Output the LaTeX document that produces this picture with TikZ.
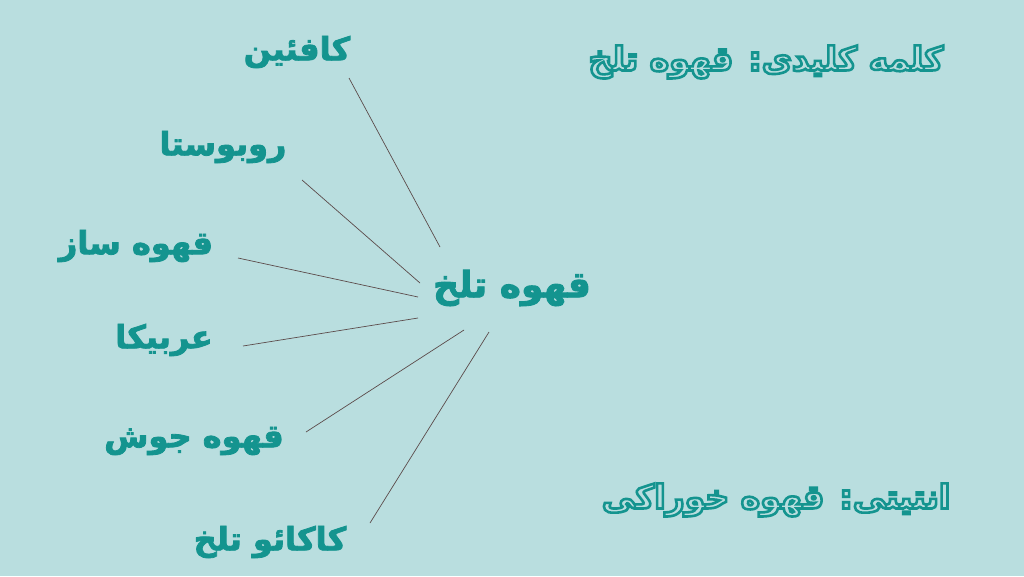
\documentclass[tikz,border=0pt]{standalone}
\usepackage{fontspec}
\TeXXeTstate=1
\newfontfamily\farsifont[Script=Arabic, BoldFeatures={FakeBold=2.5}]{DejaVu Sans}
\newfontfamily\farsiplain[Script=Arabic]{DejaVu Sans Bold}
\definecolor{bgcolor}{HTML}{B9DEDF}
\definecolor{tealtext}{HTML}{14948F}
\definecolor{linecolor}{HTML}{5C4B4B}
\newcommand{\fa}[1]{\beginR #1\endR}
\newcommand{\outlinetext}[1]{\special{pdf:literal direct 2 Tr 2.6 w 0.078 0.580 0.561 RG}#1\special{pdf:literal direct 0 Tr}}
\tikzset{
  word/.style={text=tealtext, inner sep=0pt, font=\farsifont\bfseries\fontsize{32}{38}\selectfont},
  mainword/.style={word, font=\farsifont\bfseries\fontsize{36}{42}\selectfont},
  outlined/.style={text=bgcolor, inner sep=0pt, font=\farsiplain\fontsize{33}{40}\selectfont},
  spoke/.style={draw=linecolor, line width=0.7pt}
}
\begin{document}
\begin{tikzpicture}[x=1pt,y=-1pt]

% Background
\fill[bgcolor] (0,0) rectangle (1024,576);

% Labels
\node[mainword] (C) at (512,288) {\fa{قهوه تلخ}};
\node[word] (A1) at (297,52) {\fa{کافئین}};
\node[word] (A2) at (223,147) {\fa{روبوستا}};
\node[word] (A3) at (136,246) {\fa{قهوه ساز}};
\node[word] (A4) at (164,340) {\fa{عربیکا}};
\node[word] (A5) at (194,441) {\fa{قهوه جوش}};
\node[word] (A6) at (270,542) {\fa{کاکائو تلخ}};
\node[outlined] (K) at (766,62) {\outlinetext{\fa{کلمه کلیدی: قهوه تلخ}}};
\node[outlined] (E) at (776,500) {\outlinetext{\fa{انتیتی: قهوه خوراکی}}};

% Define points
\coordinate (P1) at (349,78);
\coordinate (Q1) at (440,247);
\coordinate (P2) at (302,180);
\coordinate (Q2) at (420,283);
\coordinate (P3) at (238,258);
\coordinate (Q3) at (418,297);
\coordinate (P4) at (243,346);
\coordinate (Q4) at (418,318);
\coordinate (P5) at (306,432);
\coordinate (Q5) at (464,330);
\coordinate (P6) at (370,523);
\coordinate (Q6) at (489,332);

% Draw lines
\foreach \i in {1,...,6}
  \draw[spoke] (P\i) -- (Q\i);

\end{tikzpicture}
\end{document}
